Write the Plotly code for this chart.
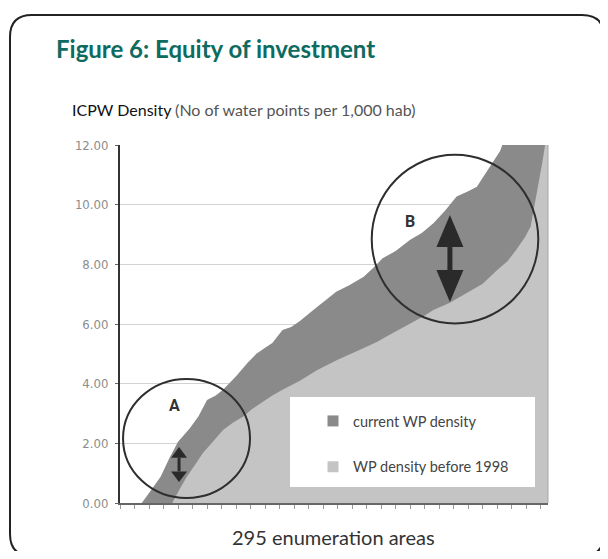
import plotly.graph_objects as go

# ---------------------------------------------------------------
# data (area index, ICPW density)
# ---------------------------------------------------------------
AREAS_CURRENT = [0, 15, 21, 28, 34, 40, 48, 54, 60, 66, 71, 80, 88, 94, 100, 105, 112, 118,
                 124, 130, 136, 143, 149, 158, 168, 175, 181, 190, 200, 208, 216, 224, 232,
                 240, 246, 250, 255, 259, 262, 265, 275, 295]
DENSITY_CURRENT = [0.0, 0.0, 0.4, 0.88, 1.5, 2.05, 2.5, 2.9, 3.45, 3.6, 3.8, 4.25, 4.7, 5.0,
                   5.2, 5.36, 5.8, 5.9, 6.1, 6.35, 6.58, 6.85, 7.08, 7.3, 7.58, 7.9, 8.2, 8.45,
                   8.82, 9.05, 9.38, 9.8, 10.27, 10.45, 10.6, 10.9, 11.27, 11.55, 11.8, 12.2,
                   13.5, 15.0]

AREAS_1998 = [0, 36, 41, 46, 52, 57, 64, 71, 78, 85, 91, 97, 105, 112, 124, 136, 150, 165,
              177, 188, 198, 209, 216, 227, 239, 250, 260, 267, 273, 279, 283, 287, 291, 293, 295]
DENSITY_1998 = [0.0, 0.0, 0.45, 0.88, 1.3, 1.67, 2.05, 2.45, 2.7, 2.9, 3.15, 3.35, 3.6, 3.8,
                4.1, 4.46, 4.8, 5.13, 5.4, 5.7, 5.95, 6.25, 6.47, 6.7, 7.04, 7.35, 7.81, 8.1,
                8.48, 8.9, 9.26, 10.27, 11.4, 12.0, 13.0]

SERIES_NAMES = ["current WP density", "WP density before 1998"]
SERIES_COLORS = ["#8a8a8a", "#c4c4c5"]
Y_TICKS = [0, 2, 4, 6, 8, 10, 12]

# page is offset by the default 8px body margin; keep the page from overflowing
OFF = 8
W, H = 608 - 2 * OFF, 559 - 2 * OFF
PL, PR, PT, PB = 120, 548, 145, 503   # plot area in page pixels


def px(x, y):
    """page pixel -> paper coordinates"""
    return (x - PL) / (PR - PL), (PB - y) / (PB - PT)


def path(points):
    out = ""
    for cmd, pts in points:
        out += cmd + " ".join("%.4f,%.4f" % px(*p) for p in pts) + " "
    return out + "Z"


LIGHT = "Lato"
COND = "DejaVu Sans Condensed, Liberation Sans Narrow, Roboto"

fig = go.Figure()
fig.add_trace(go.Scatter(x=AREAS_CURRENT, y=DENSITY_CURRENT, fill="tozeroy", mode="lines",
                         line=dict(width=0, color=SERIES_COLORS[0]), fillcolor=SERIES_COLORS[0],
                         showlegend=False, hoverinfo="skip"))
fig.add_trace(go.Scatter(x=AREAS_1998, y=DENSITY_1998, fill="tozeroy", mode="lines",
                         line=dict(width=0, color=SERIES_COLORS[1]), fillcolor=SERIES_COLORS[1],
                         showlegend=False, hoverinfo="skip"))
# legend entries as little squares
for i, (name, col) in enumerate(zip(SERIES_NAMES, SERIES_COLORS)):
    fig.add_trace(go.Scatter(x=[None], y=[None], mode="markers", name=name, legendgroup=str(i),
                             marker=dict(symbol="square", size=11, color=col)))

shapes = []
# rounded frame round the figure (right and bottom edges run off the page)
L, T, R, B, r = 10, 15, 604, 556, 22
shapes.append(dict(type="path", xref="paper", yref="paper", line=dict(color="#222", width=2),
                   path=path([("M", [(L, T + r)]), ("Q", [(L, T), (L + r, T)]), ("L", [(R - r, T)]),
                              ("Q", [(R, T), (R, T + r)]), ("L", [(R, B - r)]),
                              ("Q", [(R, B), (R - r, B)]), ("L", [(L + r, B)]),
                              ("Q", [(L, B), (L, B - r)])])))
# right border of the plot
shapes.append(dict(type="line", xref="paper", yref="paper", x0=1, x1=1, y0=0, y1=1,
                   line=dict(color="#a8a8a8", width=1)))
# white legend panel
shapes.append(dict(type="rect", xref="paper", yref="paper", layer="above",
                   x0=px(290, 0)[0], x1=px(535, 0)[0], y0=px(0, 487)[1], y1=px(0, 397)[1],
                   fillcolor="white", line=dict(width=0)))
# circles A and B
shapes.append(dict(type="circle", xref="x", yref="y", x0=2.1, x1=89.6, y0=0.17, y1=4.16,
                   line=dict(color="#2e2e2e", width=2), layer="above"))
shapes.append(dict(type="circle", xref="x", yref="y", x0=173.5, x1=288.3, y0=6.02, y1=11.67,
                   line=dict(color="#2e2e2e", width=2), layer="above"))


def double_arrow(xc, top, bot, half_w, head, shaft_w):
    s = []
    s.append(dict(type="path", xref="x", yref="y", fillcolor="#2a2a2a", line=dict(width=0),
                  layer="above",
                  path="M%f,%f L%f,%f L%f,%f Z" % (xc, top, xc - half_w, top - head, xc + half_w, top - head)))
    s.append(dict(type="path", xref="x", yref="y", fillcolor="#2a2a2a", line=dict(width=0),
                  layer="above",
                  path="M%f,%f L%f,%f L%f,%f Z" % (xc, bot, xc - half_w, bot + head, xc + half_w, bot + head)))
    s.append(dict(type="line", xref="x", yref="y", x0=xc, x1=xc, y0=top - head, y1=bot + head,
                  line=dict(color="#2a2a2a", width=shaft_w), layer="above"))
    return s


shapes += double_arrow(40.7, 1.88, 0.70, 5.5, 0.36, 3)
shapes += double_arrow(227.4, 9.65, 6.74, 9.3, 1.07, 5)

annotations = [
    dict(text="<b>Figure 6: Equity of investment</b>", xref="paper", yref="paper",
         x=px(54, 0)[0], y=px(0, 48)[1], xanchor="left", yanchor="middle", showarrow=False,
         font=dict(family="Lato", size=24, color="#0d6b5f")),
    dict(text="<span style='color:#111'>ICPW Density</span> (No of water points per 1,000 hab)",
         xref="paper", yref="paper", x=px(70, 0)[0], y=px(0, 109)[1], xanchor="left",
         yanchor="middle", showarrow=False, font=dict(family=LIGHT, size=16, color="#555")),
    dict(text="295 enumeration areas", xref="paper", yref="paper", x=px(333, 0)[0],
         y=px(0, 537)[1], xanchor="center", yanchor="middle", showarrow=False,
         font=dict(family=LIGHT, size=20, color="#333")),
    dict(text="<b>A</b>", x=37.9, y=3.28, showarrow=False,
         font=dict(family="Roboto", size=16, color="#333")),
    dict(text="<b>B</b>", x=199.9, y=9.42, showarrow=False,
         font=dict(family="Roboto", size=16, color="#333")),
]

fig.update_layout(
    width=W, height=H,
    margin=dict(l=PL - OFF, r=W - (PR - OFF), t=PT - OFF, b=H - (PB - OFF), pad=0),
    paper_bgcolor="white", plot_bgcolor="white",
    shapes=shapes, annotations=annotations,
    legend=dict(x=px(313, 0)[0], y=px(0, 405)[1], xanchor="left", yanchor="top",
                bgcolor="rgba(0,0,0,0)", traceorder="grouped", tracegroupgap=24,
                font=dict(family=LIGHT, size=14.5, color="#444")),
    font=dict(family=LIGHT),
)
fig.update_xaxes(range=[0, 295], showgrid=False, zeroline=False, showline=True,
                 linecolor="#666", linewidth=2, ticks="outside", ticklen=4, tickcolor="#999",
                 tick0=0, dtick=10, showticklabels=False)
fig.update_yaxes(range=[0, 12], tickvals=Y_TICKS, tickformat=".2f", showgrid=True,
                 gridcolor="#d2d2d2", gridwidth=1, zeroline=False, showline=True,
                 linecolor="#333", linewidth=2, ticks="outside", ticklen=3, tickcolor="#666",
                 ticklabelstandoff=4,
                 tickfont=dict(family=COND, size=13, color="#8c8c8c"))

fig.write_html("out.html")
